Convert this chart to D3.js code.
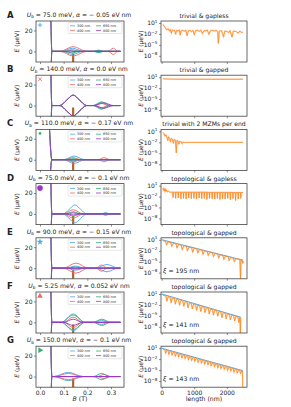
<!DOCTYPE html><html><head><meta charset="utf-8">
<script src="https://cdn.jsdelivr.net/npm/d3@7"></script>
<style>body{margin:0;background:#fff} text{font-family:"DejaVu Sans",sans-serif;fill:#222}</style>
</head><body><svg id="c" width="291" height="407"></svg>
<script>
const rowLetters = ["A","B","C","D","E","F","G"];
const ubVals = ["75.0","140.0","110.0","75.0","90.0","5.25","150.0"];
const alphaVals = ["− 0.05","0.0","− 0.17","− 0.1","− 0.15","0.052","− 0.1"];
const phaseTitles = ["trivial & gapless","trivial & gapped","trivial with 2 MZMs per end","topological & gapless","topological & gapped","topological & gapped","topological & gapped"];
const xiLabels = [null,null,null,null,"195","141","143"];
const lengthNames = ["300 nm","400 nm","650 nm","800 nm"];
const lengthColors = ["#4aa8e8","#f06868","#30b070","#9b35c8"];
const markerTypes = ["plus","cross","dotSmall","dotBig","star","triUp","triRight"];
const markerColors = ["#4aa8e8","#f06868","#30b070","#9b35c8","#4aa8e8","#f06868","#30b070"];
const bMarks = [0.14,0.14,0.14,0.14,0.14,0.14,0.14];
const bTicks = [0.0,0.1,0.2,0.3];
const lenTicks = [0,1000,2000];
const logTicks = [1,-2,-5,-8];
const eTicks = [0,20];

// left spectra: upper branch per length (drawn mirrored ±E)
const specA = [
 [[0.046,30],[0.05,0],[0.092,0],[0.137,3],[0.183,0],[0.225,0],[0.246,1.2],[0.268,0],[0.34,0]],
 [[0.046,30],[0.05,0],[0.084,0],[0.14,4.5],[0.197,0],[0.288,0],[0.31,3],[0.33,0],[0.34,0]],
 [[0.046,30],[0.05,0],[0.1,0],[0.135,1.5],[0.17,0],[0.23,0],[0.25,1],[0.27,0],[0.34,0]],
 [[0.046,30],[0.05,0],[0.11,0],[0.13,0.6],[0.15,0],[0.34,0]]];
const specB = [
 [[0.046,30],[0.05,0],[0.084,0],[0.112,5],[0.14,10],[0.168,5],[0.197,0],[0.225,0],[0.26,3],[0.29,0],[0.34,0]],
 [[0.046,30],[0.05,0],[0.084,0],[0.112,5],[0.14,10],[0.168,5],[0.197,0],[0.23,0],[0.26,2],[0.29,0],[0.34,0]],
 [[0.046,30],[0.05,0],[0.084,0],[0.112,5],[0.14,10],[0.168,5],[0.197,0],[0.225,0],[0.26,3.5],[0.3,0],[0.34,0]],
 [[0.046,30],[0.05,0],[0.084,0],[0.112,5],[0.14,10],[0.168,5],[0.197,0],[0.225,0],[0.27,2.5],[0.31,0],[0.34,0]]];
const specC = [
 [[0.04,30],[0.05,0],[0.098,0],[0.144,3.5],[0.19,0],[0.34,0]],
 [[0.04,30],[0.05,0],[0.105,0],[0.14,2],[0.175,0],[0.247,0],[0.27,2],[0.296,0],[0.34,0]],
 [[0.04,30],[0.05,0],[0.11,0],[0.14,1],[0.17,0],[0.34,0]],
 [[0.04,30],[0.05,0],[0.34,0]]];
const specD = [
 [[0.046,30],[0.05,0],[0.098,0],[0.123,4.3],[0.147,8.6],[0.172,4.3],[0.197,0],[0.26,0],[0.277,1.5],[0.295,0],[0.34,0]],
 [[0.046,30],[0.05,0],[0.098,0],[0.14,4],[0.183,0],[0.34,0]],
 [[0.046,30],[0.05,0],[0.105,0],[0.14,2],[0.175,0],[0.34,0]],
 [[0.046,30],[0.05,0],[0.11,0],[0.14,1],[0.17,0],[0.34,0]]];
const specE = [
 [[0.046,30],[0.05,0],[0.11,0],[0.15,2],[0.19,0],[0.236,0],[0.283,3.5],[0.33,0],[0.34,0]],
 [[0.046,30],[0.05,0],[0.098,0],[0.152,4.8],[0.205,0],[0.236,0],[0.26,3],[0.285,0],[0.34,0]],
 [[0.046,30],[0.05,0],[0.11,0],[0.15,1],[0.19,0],[0.34,0]],
 [[0.046,30],[0.05,0],[0.34,0]]];
const specF = [
 [[0.046,30],[0.05,0],[0.09,0],[0.14,8],[0.19,0],[0.225,0],[0.26,2],[0.29,0],[0.34,0]],
 [[0.046,30],[0.05,0],[0.1,0],[0.14,5],[0.18,0],[0.34,0]],
 [[0.046,30],[0.05,0],[0.09,0],[0.14,7],[0.19,0],[0.225,0],[0.26,3],[0.3,0],[0.34,0]],
 [[0.046,30],[0.05,0],[0.1,0],[0.14,3],[0.18,0],[0.34,0]]];
const specG = [
 [[0.046,30],[0.05,0],[0.056,0],[0.12,4],[0.183,0],[0.34,0]],
 [[0.046,30],[0.05,0],[0.06,0],[0.12,3],[0.18,0],[0.24,0],[0.27,2],[0.3,0],[0.34,0]],
 [[0.046,30],[0.05,0],[0.225,0],[0.26,3],[0.295,0],[0.34,0]],
 [[0.046,30],[0.05,0],[0.34,0]]];
const spectra = [specA,specB,specC,specD,specE,specF,specG];

// right: [length (nm), log10 E(µeV)]
const decayA = [[40,0.6],[80,0.1],[120,-0.4],[160,-0.9],[200,-0.6],[240,-1.2],[260,-0.8],[300,-1.8],[320,-0.9],[360,-1.1],[400,-1.0],[430,-2.1],[460,-1.0],[500,-1.2],[540,-0.9],[570,-2.3],[600,-1.1],[650,-1.0],[700,-1.3],[740,-0.9],[780,-2.5],[820,-1.1],[870,-1.0],[920,-1.4],[960,-1.0],[1000,-2.2],[1040,-1.1],[1100,-1.0],[1150,-1.3],[1200,-0.9],[1250,-1.9],[1300,-1.1],[1350,-1.2],[1400,-0.9],[1450,-2.1],[1500,-1.1],[1560,-1.0],[1620,-1.2],[1680,-1.0],[1720,-1.5],[1740,-4.6],[1770,-1.2],[1840,-1.1],[1900,-2.8],[1940,-1.2],[2000,-1.3],[2060,-1.6],[2100,-1.1],[2160,-2.9],[2200,-1.2],[2260,-1.3],[2300,-1.4],[2350,-1.8],[2400,-1.2],[2450,-1.6],[2500,-1.5]];
const decayB = [[40,0.65],[80,0.55],[150,0.5],[300,0.47],[600,0.45],[1000,0.44],[1500,0.44],[2000,0.44],[2500,0.44]];
const decayC = [[40,0.7],[70,0.4],[100,-0.3],[130,0.1],[160,-0.6],[190,-1.5],[210,-0.5],[240,-0.9],[270,-1.8],[300,-0.9],[330,-1.2],[360,-2.3],[380,-1.2],[420,-1.4],[450,-4.9],[470,-1.5],[500,-1.6],[530,-2.5],[560,-1.7],[600,-1.8],[630,-2.4],[660,-1.9],[700,-2.0],[740,-2.1],[800,-2.0],[1000,-2.0],[1500,-2.0],[2000,-2.0],[2500,-2.0]];
const decayD = [[40,0.3],[55,-0.3],[70,0.2],[90,-0.5],[110,0.1],[130,-0.6],[150,-0.2],[180,-0.7],[210,-0.5],[250,-0.8],[300,-0.8],[340,-0.8],[350,-2.3],[360,-0.8],[420,-0.8],[430,-2.5],[440,-0.8],[500,-0.8],[510,-2.4],[520,-0.8],[580,-0.8],[590,-2.6],[600,-0.8],[660,-0.8],[670,-2.5],[680,-0.8],[740,-0.8],[750,-2.7],[760,-0.8],[820,-0.8],[830,-2.4],[840,-0.8],[900,-0.8],[910,-2.6],[920,-0.8],[980,-0.8],[990,-2.5],[1000,-0.8],[1060,-0.8],[1070,-2.7],[1080,-0.8],[1140,-0.8],[1150,-2.4],[1160,-0.8],[1220,-0.8],[1230,-2.6],[1240,-0.8],[1300,-0.8],[1310,-2.5],[1320,-0.8],[1380,-0.8],[1390,-2.8],[1400,-0.8],[1460,-0.85],[1470,-2.5],[1480,-0.85],[1540,-0.85],[1550,-2.6],[1560,-0.85],[1620,-0.85],[1630,-2.7],[1640,-0.85],[1700,-0.85],[1710,-2.5],[1720,-0.85],[1780,-0.85],[1790,-2.8],[1800,-0.85],[1860,-0.85],[1870,-2.6],[1880,-0.85],[1940,-0.85],[1950,-2.7],[1960,-0.85],[2020,-0.85],[2030,-2.5],[2040,-0.85],[2100,-0.85],[2110,-2.9],[2120,-0.85],[2180,-0.9],[2190,-2.6],[2200,-0.9],[2260,-0.9],[2270,-3.1],[2280,-0.9],[2340,-0.9],[2350,-2.7],[2360,-0.9],[2420,-0.9],[2430,-2.5],[2440,-0.9],[2500,-0.9]];
const decayE = [[40,0.8],[120,0.6],[150,-0.4],[200,0.45],[280,0.27],[310,-0.8],[360,0.1],[440,-0.1],[470,-1.2],[520,-0.3],[600,-0.45],[630,-1.7],[680,-0.6],[760,-0.8],[790,-2.0],[840,-1.0],[920,-1.15],[950,-2.4],[1000,-1.3],[1080,-1.5],[1110,-2.6],[1160,-1.7],[1240,-1.85],[1270,-3.0],[1320,-2.0],[1400,-2.2],[1430,-3.3],[1480,-2.4],[1560,-2.55],[1590,-3.6],[1640,-2.75],[1720,-2.9],[1750,-4.0],[1800,-3.1],[1880,-3.3],[1910,-4.4],[1960,-3.45],[2040,-3.6],[2070,-4.7],[2120,-3.8],[2200,-4.0],[2230,-5.0],[2280,-4.15],[2360,-4.3],[2400,-4.4],[2420,-9.7],[2435,-4.5],[2480,-4.7],[2490,-5.5],[2500,-4.8]];
const decayF = [[40,0.7],[130,0.46],[160,-1.0],[200,0.28],[260,0.12],[290,-1.4],[330,-0.06],[390,-0.21],[420,-1.8],[460,-0.4],[520,-0.55],[550,-2.1],[590,-0.73],[650,-0.89],[680,-2.4],[720,-1.07],[780,-1.23],[810,-2.8],[850,-1.41],[910,-1.57],[940,-3.1],[980,-1.75],[1040,-1.9],[1070,-3.5],[1110,-2.09],[1170,-2.24],[1200,-3.8],[1240,-2.42],[1300,-2.58],[1330,-4.1],[1370,-2.76],[1430,-2.92],[1460,-4.5],[1500,-3.1],[1560,-3.26],[1590,-4.8],[1630,-3.44],[1690,-3.6],[1720,-5.1],[1760,-3.78],[1820,-3.93],[1850,-5.5],[1890,-4.11],[1950,-4.27],[1980,-5.8],[2020,-4.45],[2080,-4.61],[2110,-6.1],[2150,-4.79],[2210,-4.95],[2240,-6.4],[2280,-5.13],[2340,-5.29],[2370,-6.8],[2400,-5.45],[2415,-9.7],[2430,-5.5]];
const decayG = [[40,0.7],[100,0.56],[120,-0.4],[160,0.41],[200,0.31],[220,-0.7],[260,0.17],[300,0.07],[320,-0.9],[360,-0.08],[400,-0.18],[420,-1.2],[460,-0.32],[500,-0.42],[520,-1.4],[560,-0.57],[600,-0.66],[620,-1.7],[660,-0.81],[700,-0.91],[720,-1.9],[760,-1.05],[800,-1.15],[820,-2.2],[860,-1.3],[900,-1.4],[920,-2.4],[960,-1.54],[1000,-1.64],[1020,-2.6],[1060,-1.79],[1100,-1.88],[1120,-2.9],[1160,-2.03],[1200,-2.13],[1220,-3.1],[1260,-2.27],[1300,-2.37],[1320,-3.4],[1360,-2.52],[1400,-2.62],[1420,-3.6],[1460,-2.76],[1500,-2.86],[1520,-3.9],[1560,-3.0],[1600,-3.1],[1620,-4.1],[1660,-3.25],[1700,-3.35],[1720,-4.4],[1760,-3.49],[1800,-3.59],[1820,-4.6],[1860,-3.74],[1900,-3.84],[1920,-4.8],[1960,-3.98],[2000,-4.08],[2020,-5.1],[2060,-4.23],[2100,-4.32],[2120,-5.3],[2160,-4.47],[2200,-4.57],[2220,-5.6],[2260,-4.71],[2300,-4.81],[2320,-5.8],[2360,-4.96],[2400,-5.06],[2420,-6.0],[2460,-5.2],[2480,-5.3],[2490,-9.7]];
const decays = [decayA,decayB,decayC,decayD,decayE,decayF,decayG];
// exponential fits (E, F, G): endpoints [length, log10 E]
const fits = [null,null,null,null,[[0,1.0],[2500,-4.6]],[[0,1.0],[2430,-5.4]],[[0,1.0],[2500,-5.2]]];

const svg = d3.select("#c");
const rowTop0 = 21, rowStep = 54.2, panelH = 41;
const L = {x0:36, x1:124}, R = {x0:161, x1:247};
const xB = d3.scaleLinear().domain([-0.017,0.355]).range([L.x0,L.x1]);
const xLen = d3.scaleLinear().domain([-20,2620]).range([R.x0,R.x1]);
const axisCol = "#444";

rowLetters.forEach((letter,i)=>{
  const top = rowTop0 + i*rowStep, bot = top+panelH;
  const yE = d3.scaleLinear().domain([-10.2,29]).range([bot,top]);
  const yLog = d3.scaleLog().domain([Math.pow(10,-9.7),Math.pow(10,1.55)]).range([bot,top]);
  const isLast = i===rowLetters.length-1;

  // ---- left panel
  const gl = svg.append("g");
  const cid = "clipL"+i;
  svg.append("clipPath").attr("id",cid).append("rect").attr("x",L.x0).attr("y",top).attr("width",L.x1-L.x0).attr("height",panelH);
  const plot = gl.append("g").attr("clip-path",`url(#${cid})`);
  plot.append("line").attr("x1",xB(bMarks[i])).attr("x2",xB(bMarks[i])).attr("y1",yE(-2)).attr("y2",bot)
    .attr("stroke","#b5622b").attr("stroke-width",2.2);
  const line = d3.line().x(d=>xB(d[0])).y(d=>yE(d[1])).curve(d3.curveMonotoneX);
  const lineNeg = d3.line().x(d=>xB(d[0])).y(d=>yE(-d[1])).curve(d3.curveMonotoneX);
  spectra[i].forEach((pts,k)=>{
    plot.append("path").attr("d",line(pts)).attr("fill","none").attr("stroke",lengthColors[k]).attr("stroke-width",0.9);
    plot.append("path").attr("d",lineNeg(pts)).attr("fill","none").attr("stroke",lengthColors[k]).attr("stroke-width",0.9);
  });
  gl.append("rect").attr("x",L.x0).attr("y",top).attr("width",L.x1-L.x0).attr("height",panelH).attr("fill","none").attr("stroke",axisCol).attr("stroke-width",0.8);
  const ay = gl.append("g").attr("transform",`translate(${L.x0},0)`).call(d3.axisLeft(yE).tickValues(eTicks).tickSize(2).tickPadding(1.5).tickFormat(d3.format("d")));
  const ax = gl.append("g").attr("transform",`translate(0,${bot})`).call(d3.axisBottom(xB).tickValues(bTicks).tickSize(2).tickPadding(1.5).tickFormat(isLast?d3.format(".1f"):()=>""));
  [ay,ax].forEach(a=>{a.select(".domain").remove();a.selectAll("line").attr("stroke",axisCol).attr("stroke-width",0.6);a.selectAll("text").attr("font-size",6).attr("fill","#222").attr("font-family","DejaVu Sans");});
  gl.append("text").attr("transform",`translate(19,${top+panelH/2}) rotate(-90)`).attr("text-anchor","middle").attr("font-size",6)
    .html('<tspan font-style="italic">E</tspan> (µeV)');
  gl.append("text").attr("x",79).attr("y",top-4).attr("text-anchor","middle").attr("font-size",6.1)
    .html(`<tspan font-style="italic">U</tspan><tspan font-size="4.3" dy="1.3">b</tspan><tspan dy="-1.3"> = ${ubVals[i]} meV, </tspan><tspan font-style="italic">α</tspan> = ${alphaVals[i]} eV nm`);
  gl.append("text").attr("x",7).attr("y",top-3).attr("font-size",8.5).attr("font-weight","bold").text(letter);
  const mx = 40, my = top+4, mc = markerColors[i];
  const mt = markerTypes[i];
  if(mt==="plus"){gl.append("path").attr("d",`M${mx-2.2},${my}H${mx+2.2}M${mx},${my-2.2}V${my+2.2}`).attr("stroke",mc).attr("stroke-width",0.9);}
  else if(mt==="cross"){gl.append("path").attr("d",`M${mx-1.8},${my-1.8}L${mx+1.8},${my+1.8}M${mx-1.8},${my+1.8}L${mx+1.8},${my-1.8}`).attr("stroke",mc).attr("stroke-width",0.9);}
  else if(mt==="dotSmall"){gl.append("circle").attr("cx",mx).attr("cy",my).attr("r",1.3).attr("fill",mc);}
  else if(mt==="dotBig"){gl.append("circle").attr("cx",mx).attr("cy",my+0.5).attr("r",2.8).attr("fill",mc);}
  else if(mt==="star"){gl.append("path").attr("transform",`translate(${mx},${my})`).attr("d",d3.symbol(d3.symbolStar,14)()).attr("fill",mc);}
  else if(mt==="triUp"){gl.append("path").attr("transform",`translate(${mx},${my})`).attr("d",d3.symbol(d3.symbolTriangle,14)()).attr("fill",mc);}
  else if(mt==="triRight"){gl.append("path").attr("transform",`translate(${mx},${my}) rotate(90)`).attr("d",d3.symbol(d3.symbolTriangle,14)()).attr("fill",mc);}
  const lg = gl.append("g");
  lg.append("rect").attr("x",68).attr("y",top+1.5).attr("width",54).attr("height",11).attr("rx",1).attr("fill","#fff").attr("fill-opacity",0.85).attr("stroke","#ccc").attr("stroke-width",0.5);
  lengthNames.forEach((nm,k)=>{
    const col = k<2?0:1, row = k%2;
    const lx = 70 + col*26, ly = top+4.8+row*4.6;
    lg.append("line").attr("x1",lx).attr("x2",lx+5).attr("y1",ly).attr("y2",ly).attr("stroke",lengthColors[k]).attr("stroke-width",0.8);
    lg.append("text").attr("x",lx+7).attr("y",ly+1.2).attr("font-size",3.4).text(nm);
  });

  // ---- right panel
  const gr = svg.append("g");
  const rid = "clipR"+i;
  svg.append("clipPath").attr("id",rid).append("rect").attr("x",R.x0).attr("y",top).attr("width",R.x1-R.x0).attr("height",panelH);
  const rplot = gr.append("g").attr("clip-path",`url(#${rid})`);
  const lineR = d3.line().x(d=>xLen(d[0])).y(d=>yLog(Math.pow(10,d[1])));
  if(fits[i]) rplot.append("path").attr("d",lineR(fits[i])).attr("fill","none").attr("stroke","#4aa8e8").attr("stroke-width",1.1);
  rplot.append("path").attr("d",lineR(decays[i])).attr("fill","none").attr("stroke","#ffb070").attr("stroke-width",1.4).attr("stroke-opacity",0.5);
  rplot.append("path").attr("d",lineR(decays[i])).attr("fill","none").attr("stroke","#ff7f0e").attr("stroke-width",0.7);
  gr.append("rect").attr("x",R.x0).attr("y",top).attr("width",R.x1-R.x0).attr("height",panelH).attr("fill","none").attr("stroke",axisCol).attr("stroke-width",0.8);
  const ry = gr.append("g").attr("transform",`translate(${R.x0},0)`).call(d3.axisLeft(yLog).tickValues(logTicks.map(t=>Math.pow(10,t))).tickSize(2).tickPadding(1.5).tickFormat(()=>""));
  const rx = gr.append("g").attr("transform",`translate(0,${bot})`).call(d3.axisBottom(xLen).tickValues(lenTicks).tickSize(2).tickPadding(1.5).tickFormat(isLast?d3.format("d"):()=>""));
  [ry,rx].forEach(a=>{a.select(".domain").remove();a.selectAll("line").attr("stroke",axisCol).attr("stroke-width",0.6);a.selectAll("text").attr("font-size",6).attr("fill","#222").attr("font-family","DejaVu Sans");});
  logTicks.forEach(t=>{
    gr.append("text").attr("x",R.x0-3.5).attr("y",yLog(Math.pow(10,t))+2.2).attr("text-anchor","end").attr("font-size",6)
      .html(`10<tspan font-size="4.2" dy="-2.6">${t<0?"−"+(-t):t}</tspan>`);
  });
  gr.append("text").attr("transform",`translate(143,${top+panelH/2}) rotate(-90)`).attr("text-anchor","middle").attr("font-size",6)
    .html('<tspan font-style="italic">E</tspan> (µeV)');
  gr.append("text").attr("x",(R.x0+R.x1)/2).attr("y",top-3).attr("text-anchor","middle").attr("font-size",6.1).text(phaseTitles[i]);
  if(xiLabels[i]) gr.append("text").attr("x",R.x0+2).attr("y",bot-6).attr("font-size",6.2)
    .html(`<tspan font-style="italic">ξ</tspan> = ${xiLabels[i]} nm`);
  if(isLast){
    gl.append("text").attr("x",(L.x0+L.x1)/2).attr("y",bot+14).attr("text-anchor","middle").attr("font-size",6.2)
      .html('<tspan font-style="italic">B</tspan> (T)');
    gr.append("text").attr("x",(R.x0+R.x1)/2).attr("y",bot+14).attr("text-anchor","middle").attr("font-size",6.2).text("length (nm)");
  }
});
</script></body></html>
